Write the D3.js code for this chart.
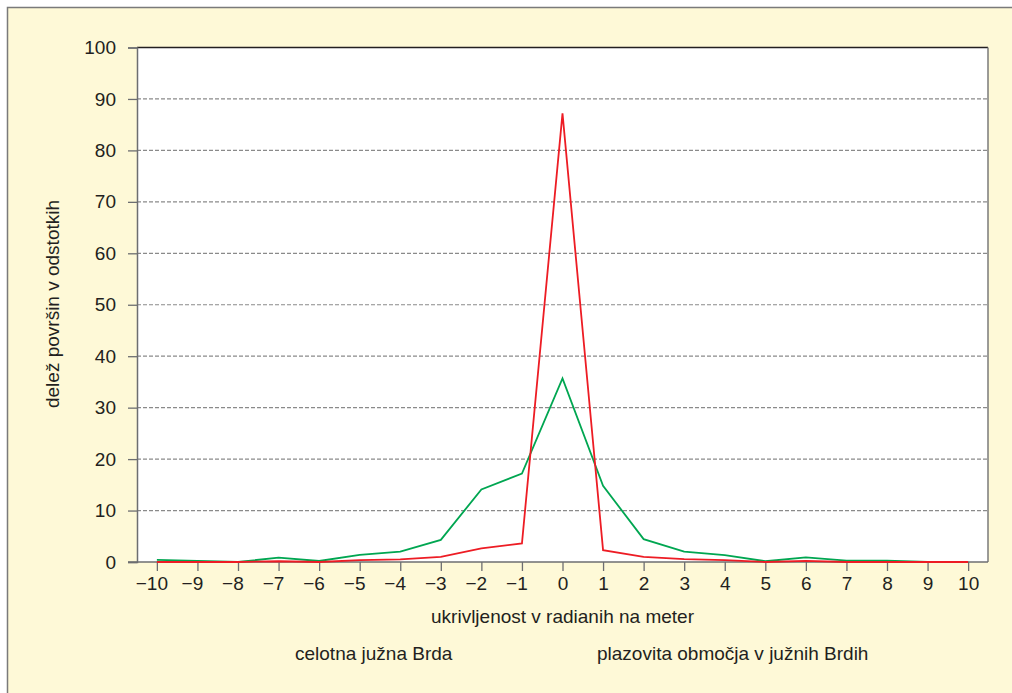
<!DOCTYPE html>
<html><head><meta charset="utf-8">
<script src="https://cdn.jsdelivr.net/npm/d3@7"></script>
<style>
html,body{margin:0;padding:0;background:#fff;}
svg{display:block;font-family:"Liberation Sans",Arial,Helvetica,sans-serif;}
</style></head><body>
<svg id="c" width="1012" height="693"></svg>
<script>
const curvature = [-10,-9,-8,-7,-6,-5,-4,-3,-2,-1,0,1,2,3,4,5,6,7,8,9,10];
const celotnaJuznaBrda = [0,0,0,0.15,0,0.35,0.5,1.0,2.65,3.6,87.2,2.3,1.0,0.55,0.35,0,0.2,0,0,0,0];
const plazovitaObmocja = [0.4,0.2,0,0.85,0.2,1.4,2.0,4.3,14.1,17.2,35.7,14.8,4.45,2.0,1.35,0.15,0.9,0.25,0.25,0,0];
const yTicks = [0,10,20,30,40,50,60,70,80,90,100];
const seriesNames = ["celotna južna Brda","plazovita območja v južnih Brdih"];
const yLabel = "delež površin v odstotkih";
const xLabel = "ukrivljenost v radianih na meter";

const svg = d3.select("#c");
const L = 137, R = 988, T = 47.5, B = 562;
const txt = "#231f20", axisCol = "#6d6e71";
const FONT = "'Liberation Sans',Arial,sans-serif";

svg.append("rect").attr("x",7.5).attr("y",7.5).attr("width",1020).attr("height",700)
  .attr("fill","#fef9d7").attr("stroke","#7a7a7a").attr("stroke-width",1.5);

const x = d3.scaleLinear().domain([-10.49,10.49]).range([L,R]);
const y = d3.scaleLinear().domain([0,100]).range([B,T]);

svg.append("rect").attr("x",L).attr("y",T).attr("width",R-L).attr("height",B-T).attr("fill","#fff");

// gridlines
svg.append("g").selectAll("line").data(yTicks.filter(d=>d>0&&d<100)).join("line")
  .attr("x1",L).attr("x2",R).attr("y1",d=>y(d)).attr("y2",d=>y(d))
  .attr("stroke","#8a8a8a").attr("stroke-width",1.2).attr("stroke-dasharray","4,2");

// frame
svg.append("line").attr("x1",L).attr("x2",R).attr("y1",T).attr("y2",T).attr("stroke","#231f20").attr("stroke-width",1.3);
svg.append("line").attr("x1",R).attr("x2",R).attr("y1",T).attr("y2",B).attr("stroke","#7a7a7a").attr("stroke-width",1.5);

// y axis
const yAxis = d3.axisLeft(y).tickValues(yTicks).tickSize(9).tickPadding(12).tickFormat(d3.format("d"));
const gy = svg.append("g").attr("transform",`translate(${L},0)`).call(yAxis);
gy.select(".domain").attr("stroke",axisCol).attr("stroke-width",1.5);
gy.selectAll(".tick line").attr("stroke",axisCol).attr("stroke-width",1.3);
gy.selectAll(".tick text").attr("fill",txt).style("font-size","19px").style("font-family",FONT);

// x axis (digits centred on tick, minus sign hanging to the left)
const xAxis = d3.axisBottom(x).tickValues(curvature).tickSize(9).tickPadding(6)
  .tickSizeOuter(0).tickFormat(d => String(Math.abs(d)));
const gx = svg.append("g").attr("transform",`translate(0,${B})`).call(xAxis);
gx.select(".domain").attr("stroke",axisCol).attr("stroke-width",1.5).attr("d",`M${L-9},0H${R}`);
gx.selectAll(".tick line").attr("stroke",axisCol).attr("stroke-width",1.3);
gx.selectAll(".tick text").attr("fill",txt).style("font-size","19px").style("font-family",FONT);
gx.selectAll(".tick").each(function(d){
  if (d < 0) {
    const t = d3.select(this).select("text");
    const w = t.node().getComputedTextLength();
    d3.select(this).append("text").attr("fill",txt).style("font-size","19px").style("font-family",FONT)
      .attr("text-anchor","end").attr("x",-w/2).attr("y",t.attr("y")).attr("dy",t.attr("dy"))
      .text("\u2212");
  }
});

// lines
const line = d3.line().x((d,i)=>x(curvature[i])).y(d=>y(d));
svg.append("path").datum(plazovitaObmocja).attr("d",line).attr("fill","none").attr("stroke","#00a651").attr("stroke-width",1.8).attr("stroke-linejoin","miter");
svg.append("path").datum(celotnaJuznaBrda).attr("d",line).attr("fill","none").attr("stroke","#ed1c24").attr("stroke-width",1.8).attr("stroke-linejoin","miter");

// labels
svg.append("text").attr("transform","translate(58.5,304) rotate(-90)").attr("text-anchor","middle")
  .attr("fill",txt).style("font-size","19px").text(yLabel);
svg.append("text").attr("x",(L+R)/2).attr("y",623).attr("text-anchor","middle")
  .attr("fill",txt).style("font-size","19px").text(xLabel);
svg.append("text").attr("x",295).attr("y",660).attr("fill",txt).style("font-size","19px").text(seriesNames[0]);
svg.append("text").attr("x",597).attr("y",660).attr("fill",txt).style("font-size","19px").text(seriesNames[1]);
</script>
</body></html>
